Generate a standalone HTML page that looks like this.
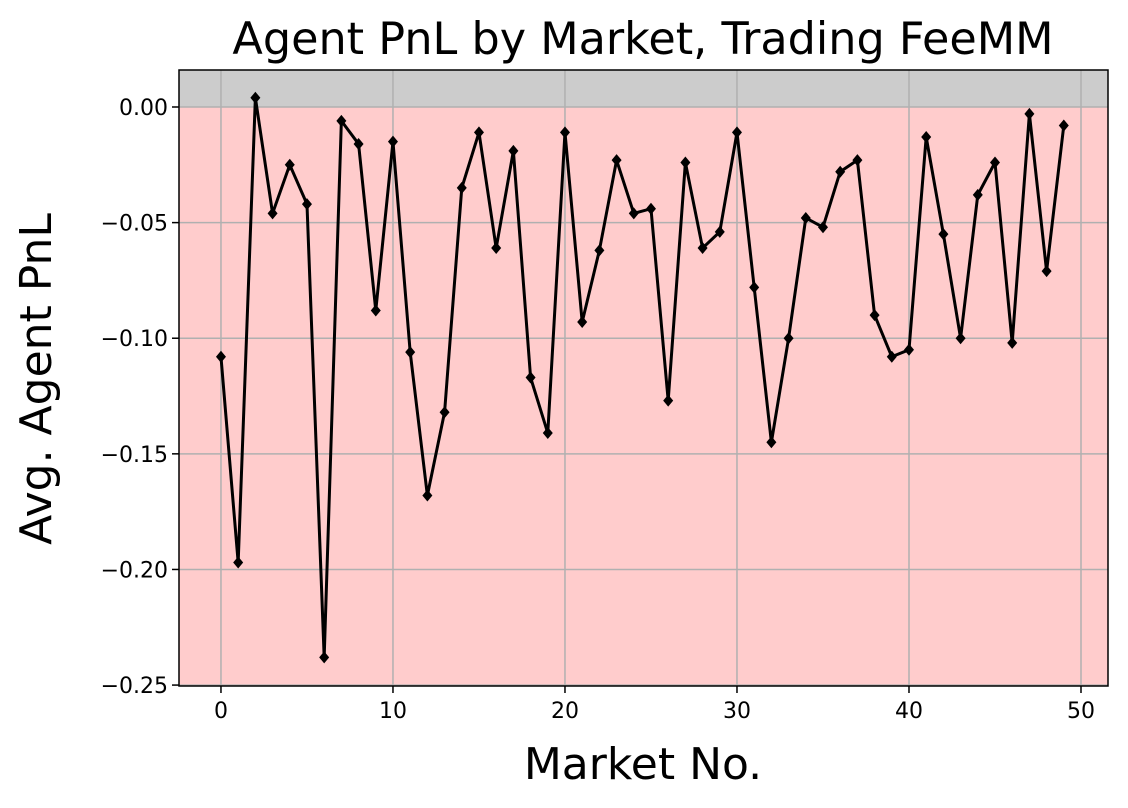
<!DOCTYPE html>
<html><head><meta charset="utf-8"><style>body{margin:0;background:#fff}svg{display:block;font-family:"DejaVu Sans","Liberation Sans",sans-serif}</style></head>
<body>
<svg id="chart" width="1128" height="808"></svg>
<script>
const markets = Array.from({length:50},(_, i)=>i);
const pnlValues = [-0.108,-0.197,0.004,-0.046,-0.025,-0.042,-0.238,-0.006,-0.016,-0.088,-0.015,-0.106,-0.168,-0.132,-0.035,-0.011,-0.061,-0.019,-0.117,-0.141,-0.011,-0.093,-0.062,-0.023,-0.046,-0.044,-0.127,-0.024,-0.061,-0.054,-0.011,-0.078,-0.145,-0.100,-0.048,-0.052,-0.028,-0.023,-0.090,-0.108,-0.105,-0.013,-0.055,-0.100,-0.038,-0.024,-0.102,-0.003,-0.071,-0.008];
const xTicks = [0,10,20,30,40,50];
const yTicks = [0,-0.05,-0.10,-0.15,-0.20,-0.25];
const yTickLabels = ["0.00","\u22120.05","\u22120.10","\u22120.15","\u22120.20","\u22120.25"];

const L=179,R=1108,T=70,B=686;
const xMin=-2.44,xMax=51.57,yMin=-0.2504,yMax=0.016;
const xs=v=>L+(v-xMin)/(xMax-xMin)*(R-L);
const ys=v=>B-(v-yMin)/(yMax-yMin)*(B-T);
const svg=document.getElementById('chart');
const NS='http://www.w3.org/2000/svg';
function add(tag,attrs,name,text){const e=document.createElementNS(NS,tag);for(const k in attrs)e.setAttribute(k,attrs[k]);


if(text!==undefined)e.textContent=text;svg.appendChild(e);return e;}
add('rect',{x:L,y:T,width:R-L,height:ys(0)-T,fill:'#cccccc'},'positive-region');
add('rect',{x:L,y:ys(0),width:R-L,height:B-ys(0),fill:'#ffcccc'},'negative-region');
xTicks.forEach(t=>{const x=xs(t);
add('line',{x1:x,x2:x,y1:T,y2:B,stroke:'#b0b0b0','stroke-width':1.5},'x-grid-line');
add('line',{x1:x,x2:x,y1:B,y2:B+7,stroke:'#000','stroke-width':1.5},'x-tick');
add('text',{x:x,y:B+32,'text-anchor':'middle','font-size':22},'x-tick-label',String(t));});
yTicks.forEach((t,i)=>{const y=ys(t);
add('line',{x1:L,x2:R,y1:y,y2:y,stroke:'#b0b0b0','stroke-width':1.5},'y-grid-line');
add('line',{x1:L-7,x2:L,y1:y,y2:y,stroke:'#000','stroke-width':1.5},'y-tick');
add('text',{x:L-11,y:y+8,'text-anchor':'end','font-size':22},'y-tick-label',yTickLabels[i]);});
add('polyline',{points:markets.map((m,i)=>xs(m)+','+ys(pnlValues[i])).join(' '),fill:'none',stroke:'#000','stroke-width':3},'pnl-line');
markets.forEach((m,i)=>{const x=xs(m),y=ys(pnlValues[i]);
add('polygon',{points:`${x},${y-6} ${x+5},${y} ${x},${y+6} ${x-5},${y}`,fill:'#000'},'pnl-marker');});
add('rect',{x:L,y:T,width:R-L,height:B-T,fill:'none',stroke:'#000','stroke-width':1.5},'plot-frame');
add('text',{x:643,y:54,'text-anchor':'middle','font-size':44.5},'chart-title','Agent PnL by Market, Trading FeeMM');
add('text',{x:643,y:779,'text-anchor':'middle','font-size':44},'x-axis-title','Market No.');
add('text',{x:0,y:0,'text-anchor':'middle','font-size':44,transform:`translate(51,379) rotate(-90)`},'y-axis-title','Avg. Agent PnL');
</script>
</body></html>
